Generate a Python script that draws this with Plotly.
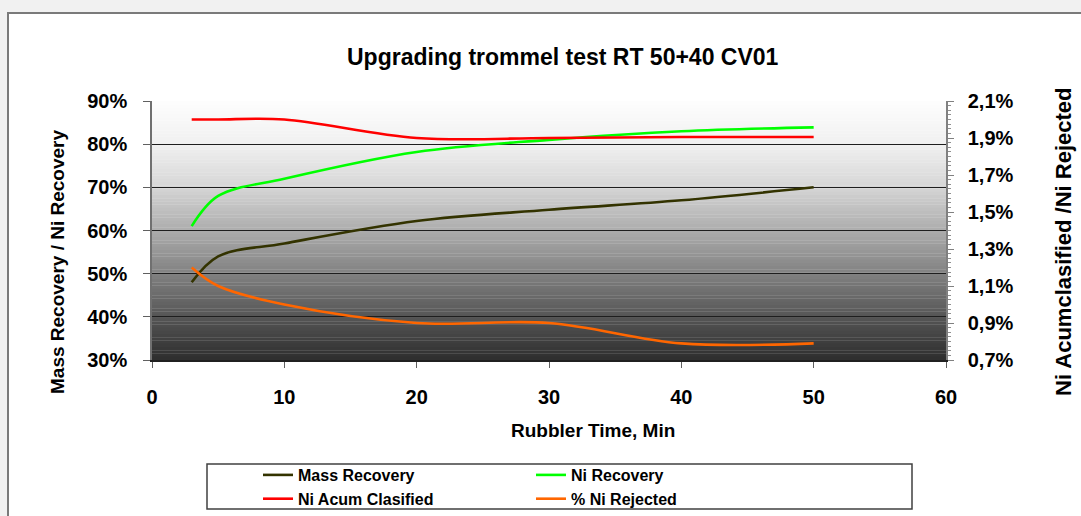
import plotly.graph_objects as go

# ---- data ----
time_min = [3, 5, 10, 20, 30, 40, 50]
mass_recovery = [48.0, 54.0, 57.0, 62.2, 64.8, 67.0, 70.0]
ni_recovery = [61.0, 68.0, 72.0, 78.2, 81.0, 83.0, 83.9]
ni_acum_clasified = [2.00, 2.00, 2.00, 1.90, 1.90, 1.905, 1.905]
ni_rejected = [1.20, 1.10, 1.00, 0.90, 0.90, 0.79, 0.79]

left_ticks = [30, 40, 50, 60, 70, 80, 90]
right_ticks = [0.7, 0.9, 1.1, 1.3, 1.5, 1.7, 1.9, 2.1]
x_ticks = [0, 10, 20, 30, 40, 50, 60]

left_labels = [f"{v}%" for v in left_ticks]
right_labels = [f"{v:.1f}%".replace(".", ",") for v in right_ticks]

W, H = 1081, 516
L, R, T, B = 152, 946, 101, 360
PW, PH = R - L, B - T


def px(xp):
    return (xp - L) / PW


def py(yp):
    return (B - yp) / PH


FONT = "Liberation Sans, Arial, sans-serif"

fig = go.Figure()
line_kw = dict(shape="spline", smoothing=1.0, width=2.6)
fig.add_trace(go.Scatter(x=time_min, y=mass_recovery, mode="lines", name="Mass Recovery",
                         line=dict(color="#333300", **line_kw), yaxis="y"))
fig.add_trace(go.Scatter(x=time_min, y=ni_recovery, mode="lines", name="Ni Recovery",
                         line=dict(color="#00ff00", **line_kw), yaxis="y"))
fig.add_trace(go.Scatter(x=time_min, y=ni_acum_clasified, mode="lines", name="Ni Acum Clasified",
                         line=dict(color="#ff0000", **line_kw), yaxis="y2"))
fig.add_trace(go.Scatter(x=time_min, y=ni_rejected, mode="lines", name="% Ni Rejected",
                         line=dict(color="#ff6600", **line_kw), yaxis="y2"))

shapes = []
# outer chart frame
shapes.append(dict(type="rect", xref="paper", yref="paper", layer="below",
                   x0=px(8), x1=px(1090), y0=py(530), y1=py(13),
                   fillcolor="white", line=dict(color="#7a7a7a", width=2)))


# gradient background of plot area
def grad(t):
    stops = [(0.0, 253), (0.17, 240), (0.33, 214), (0.5, 172), (0.67, 128), (0.83, 86), (1.0, 45)]
    for (t0, c0), (t1, c1) in zip(stops[:-1], stops[1:]):
        if t <= t1:
            f = (t - t0) / (t1 - t0)
            return c0 + (c1 - c0) * f
    return stops[-1][1]


N = 80
for i in range(N):
    t = (i + 0.5) / N
    c = int(round(grad(t)))
    shapes.append(dict(type="rect", xref="paper", yref="paper", layer="below",
                       x0=0, x1=1, y0=1 - (i + 1) / N - 0.001, y1=1 - i / N,
                       fillcolor=f"rgb({c},{c},{c})", line=dict(width=0)))

# legend box
shapes.append(dict(type="rect", xref="paper", yref="paper", layer="below",
                   x0=px(207), x1=px(912), y0=py(509), y1=py(464),
                   fillcolor="white", line=dict(color="#404040", width=1.5)))

annotations = [
    dict(text="<b>Upgrading trommel test RT 50+40 CV01</b>", xref="paper", yref="paper",
         x=px(563), y=py(57), showarrow=False, xanchor="center", yanchor="middle",
         font=dict(family=FONT, size=23, color="black")),
    dict(text="<b>Rubbler Time, Min</b>", xref="paper", yref="paper",
         x=px(593), y=py(430), showarrow=False, xanchor="center", yanchor="middle",
         font=dict(family=FONT, size=19, color="black")),
    dict(text="<b>Mass Recovery / Ni Recovery</b>", xref="paper", yref="paper",
         x=px(57), y=py(262), showarrow=False, xanchor="center", yanchor="middle",
         textangle=-90, font=dict(family=FONT, size=19, color="black")),
    dict(text="<b>Ni Acumclasified /Ni Rejected</b>", xref="paper", yref="paper",
         x=px(1063), y=py(242), showarrow=False, xanchor="center", yanchor="middle",
         textangle=-90, font=dict(family=FONT, size=22, color="black")),
]

tickfont = dict(family=FONT, size=20, color="black", weight="bold")

fig.update_layout(
    width=W, height=H,
    margin=dict(l=L, r=W - R, t=T, b=H - B, pad=0),
    paper_bgcolor="#f1f1f1",
    plot_bgcolor="rgba(0,0,0,0)",
    showlegend=True,
    legend=dict(orientation="h", xref="container", yref="container",
                x=258 / W, y=1 - 458 / H, xanchor="left", yanchor="top",
                entrywidth=228, entrywidthmode="pixels",
                bgcolor="rgba(0,0,0,0)", borderwidth=0,
                font=dict(family=FONT, size=16, color="black", weight="bold"),
                tracegroupgap=0, itemwidth=30),
    xaxis=dict(range=[0, 60], tickvals=x_ticks, showgrid=False, zeroline=False,
               showline=True, linecolor="#202020", linewidth=1.5,
               ticks="outside", ticklen=6, tickcolor="#606060",
               tickfont=tickfont, ticklabelstandoff=12),
    yaxis=dict(range=[30, 90], tickvals=left_ticks, ticktext=left_labels,
               showgrid=True, gridcolor="#1e1e1e", gridwidth=1.2, zeroline=False,
               showline=True, linecolor="#707070", linewidth=1.5,
               ticks="outside", ticklen=7, tickcolor="#606060",
               tickfont=tickfont, ticklabelstandoff=12),
    yaxis2=dict(range=[0.7, 2.1], tickvals=right_ticks, ticktext=right_labels,
                overlaying="y", side="right", showgrid=False, zeroline=False,
                showline=True, linecolor="#808080", linewidth=1.5,
                ticks="outside", ticklen=6, tickcolor="#808080",
                minor=dict(dtick=0.025, tick0=0.7, ticks="outside", ticklen=3, tickcolor="#909090"),
                tickfont=tickfont, ticklabelstandoff=10),
    shapes=shapes,
    annotations=annotations,
)

fig.write_html("out.html")
